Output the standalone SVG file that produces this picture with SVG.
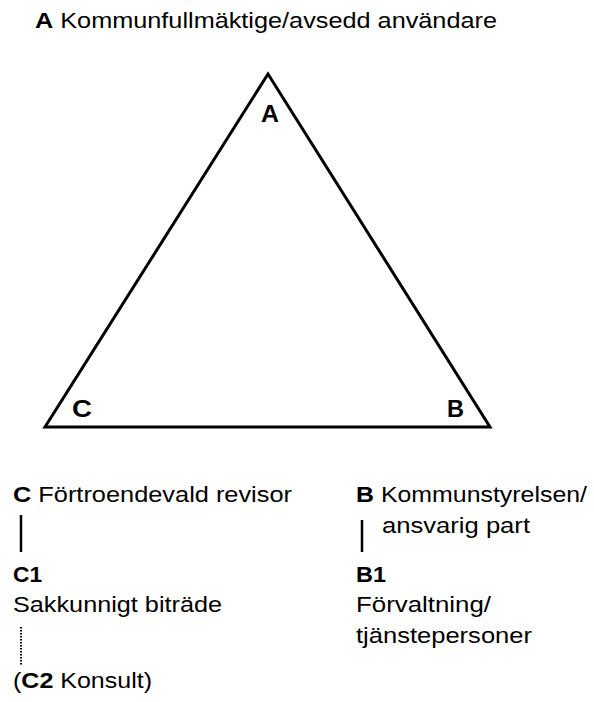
<svg xmlns="http://www.w3.org/2000/svg" width="594" height="702" viewBox="0 0 594 702">
<style>
text{font-family:"Liberation Sans",Arial,sans-serif;font-size:22px;fill:#000}
.b{font-weight:bold}
.v{font-size:23px}
.ln{stroke:#000;stroke-width:2.5;fill:none}
.dot{stroke:#000;stroke-width:2;stroke-dasharray:1.5 1.5;fill:none}
</style>
<rect width="594" height="702" fill="#fff"/>
<g id="title"><text x="35" y="28" textLength="462" lengthAdjust="spacingAndGlyphs"><tspan class="b">A</tspan> Kommunfullmäktige/avsedd användare</text></g>
<g id="triangle">
<polygon points="268,74 45,427 490,427" fill="none" stroke="#000" stroke-width="3" stroke-linejoin="miter"/>
<text x="261" y="122" class="b v" textLength="18" lengthAdjust="spacingAndGlyphs">A</text>
<text x="72" y="417" class="b v" textLength="20" lengthAdjust="spacingAndGlyphs">C</text>
<text x="447" y="417" class="b v" textLength="17" lengthAdjust="spacingAndGlyphs">B</text>
</g>
<g id="nodeC"><text x="13" y="502" textLength="279" lengthAdjust="spacingAndGlyphs"><tspan class="b">C</tspan> Förtroendevald revisor</text></g>
<g id="nodeC1"><text x="13" y="582" class="b" textLength="29" lengthAdjust="spacingAndGlyphs">C1</text><text x="13" y="612" textLength="209" lengthAdjust="spacingAndGlyphs">Sakkunnigt biträde</text></g>
<g id="nodeC2"><text x="13" y="688" textLength="139" lengthAdjust="spacingAndGlyphs">(<tspan class="b">C2</tspan> Konsult)</text></g>
<g id="nodeB"><text x="356" y="502" textLength="231" lengthAdjust="spacingAndGlyphs"><tspan class="b">B</tspan> Kommunstyrelsen/</text><text x="382" y="533" textLength="148" lengthAdjust="spacingAndGlyphs">ansvarig part</text></g>
<g id="nodeB1"><text x="356" y="582" class="b" textLength="30" lengthAdjust="spacingAndGlyphs">B1</text><text x="356" y="612" textLength="135" lengthAdjust="spacingAndGlyphs">Förvaltning/</text><text x="356" y="643" textLength="176" lengthAdjust="spacingAndGlyphs">tjänstepersoner</text></g>
<g id="connectors">
<line class="ln" x1="21" y1="515" x2="21" y2="552"/>
<line class="dot" x1="21" y1="627" x2="21" y2="665"/>
<line class="ln" x1="362" y1="520" x2="362" y2="552"/>
</g>
</svg>
